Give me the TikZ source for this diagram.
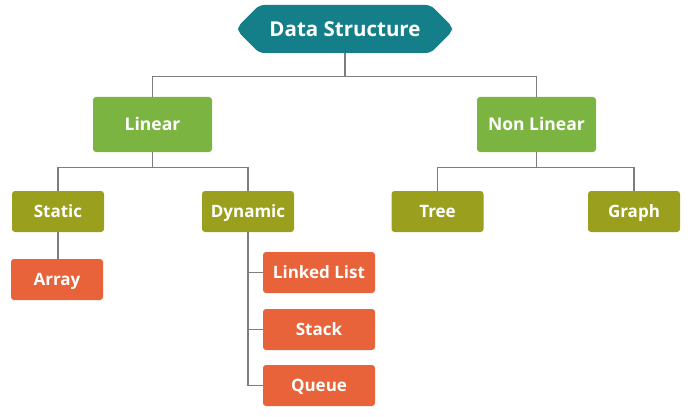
\documentclass[tikz,border=0pt]{standalone}
\usepackage{fontspec}
\setmainfont{Open Sans}
\usetikzlibrary{positioning,shapes.misc}

\definecolor{tealhead}{RGB}{20,127,136}
\definecolor{leafgreen}{RGB}{124,180,66}
\definecolor{olive}{RGB}{154,160,30}
\definecolor{brickorange}{RGB}{232,98,58}
\definecolor{linegray}{RGB}{125,125,125}

\begin{document}
\begin{tikzpicture}[
  x=1pt, y=1pt,
  every node/.style={font=\bfseries, text=white, text depth=0pt},
  head/.style={chamfered rectangle, chamfered rectangle xsep=12pt, chamfered rectangle ysep=14pt, rounded corners=5pt,
    fill=tealhead, minimum width=214pt, minimum height=48pt, inner sep=0pt, text height=14.6pt,
    font=\bfseries\fontsize{20.5}{24}\selectfont},
  kind/.style={rectangle, rounded corners=3pt, fill=leafgreen, minimum width=119pt, minimum height=55pt,
    text height=12.5pt, font=\bfseries\fontsize{17.5}{20}\selectfont},
  sub/.style={rectangle, rounded corners=3pt, fill=olive, minimum width=92pt, minimum height=41pt,
    text height=12.1pt, font=\bfseries\fontsize{17}{20}\selectfont},
  leaf/.style={sub, fill=brickorange},
  conn/.style={draw=linegray, line width=1.3pt}
]
\useasboundingbox (0,0) rectangle (694,416);

\node[head] (ds) at (345,387) {Data Structure};

\node[kind] (lin) at (152.5,291.5) {Linear};
\node[kind] (nonlin) at (536.5,291.5) {Non Linear};

\node[sub] (static) at (58,204.5) {Static};
\node[sub] (dyn) at (248,204.5) {Dynamic};
\node[sub] (tree) at (437.5,204.5) {Tree};
\node[sub] (graph) at (634,204.5) {Graph};

\node[leaf] (array) at (57,136.5) {Array};
\node[leaf, minimum width=112pt] (linked) at (319,143.5) {Linked List};
\node[leaf, minimum width=112pt] (stack) at (319,86.5) {Stack};
\node[leaf, minimum width=112pt] (queue) at (319,30.5) {Queue};

% tree lines
\draw[conn] (ds.south) -- ++(0,-23) -| (lin.north);
\draw[conn] (ds.south) -- ++(0,-23) -| (nonlin.north);
\draw[conn] (lin.south) -- ++(0,-15) -| (static.north);
\draw[conn] (lin.south) -- ++(0,-15) -| (dyn.north);
\draw[conn] (nonlin.south) -- ++(0,-15) -| (tree.north);
\draw[conn] (nonlin.south) -- ++(0,-15) -| (graph.north);
\draw[conn] (static.south) -- (array.north -| static.south);
\draw[conn] (dyn.south) |- (linked.west);
\draw[conn] (dyn.south) |- (stack.west);
\draw[conn] (dyn.south) |- (queue.west);
\end{tikzpicture}
\end{document}
